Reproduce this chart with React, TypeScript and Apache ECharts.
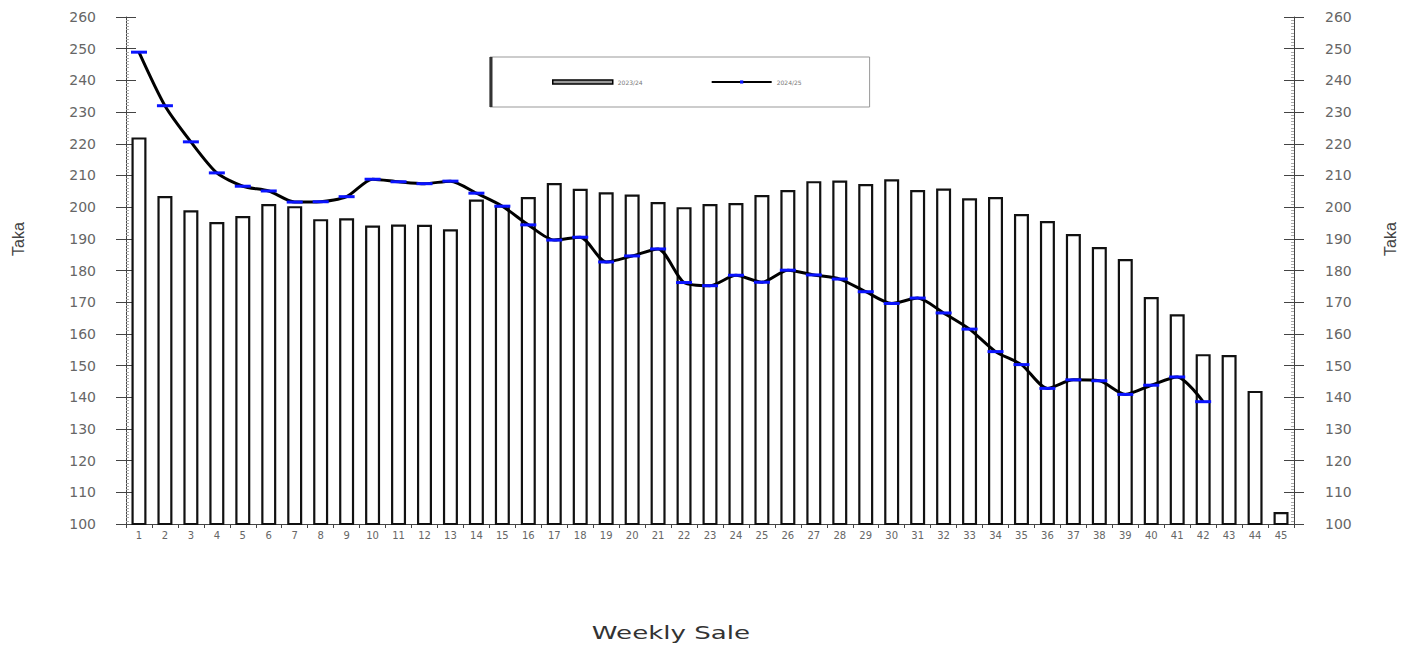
import React, { useEffect, useRef } from "react";
import * as echarts from "echarts";

const weeks: string[] = Array.from({ length: 45 }, (_, i) => String(i + 1));

const sales2023: number[] = [
  222, 203.5, 199, 195.3, 197.2, 201, 200.3, 196.2, 196.5, 194.2,
  194.5, 194.4, 193, 202.4, 200.6, 203.2, 207.6, 205.8, 204.7, 204,
  201.6, 200, 201, 201.3, 203.8, 205.4, 208.2, 208.4, 207.3, 208.8,
  205.4, 205.9, 202.8, 203.2, 197.8, 195.6, 191.5, 187.4, 183.6, 171.6,
  166.2, 153.6, 153.3, 142, 103.8,
];

const sales2024: (number | null)[] = [
  248.9, 232, 220.6, 210.8, 206.6, 205.1, 201.6, 201.7, 203.3, 208.8,
  208, 207.4, 208.2, 204.4, 200.3, 194.4, 189.6, 190.5, 182.7, 184.6,
  186.8, 176.2, 175.2, 178.5, 176.3, 180.1, 178.6, 177.3, 173.3, 169.6,
  171.3, 166.6, 161.5, 154.4, 150.3, 142.8, 145.5, 145.2, 140.9, 143.8,
  146.4, 138.6, null, null, null,
];

const seriesNames: string[] = ["2023/24", "2024/25"];

const Y_MIN = 100;
const Y_MAX = 260;
const Y_STEP = 10;

export default function App() {
  const ref = useRef<HTMLDivElement>(null);

  useEffect(() => {
    if (!ref.current) return;
    const chart = echarts.init(ref.current, undefined, { renderer: "svg" });

    const labelStyle = {
      color: "#666",
      fontFamily: "DejaVu Sans",
      fontSize: 14,
    };

    const baseY = {
      type: "value" as const,
      min: Y_MIN,
      max: Y_MAX,
      interval: Y_STEP,
      splitLine: { show: false },
    };

    const option: any = {
      animation: false,
      backgroundColor: "#ffffff",
      grid: { left: 126, right: 117, top: 17, bottom: 121, containLabel: false },
      legend: {
        left: 490,
        top: 57,
        orient: "horizontal",
        itemWidth: 60,
        itemHeight: 4,
        itemGap: 68,
        padding: [22, 68, 22, 62],
        borderColor: "#999",
        borderWidth: 1,
        textStyle: { fontSize: 6, color: "#777", fontFamily: "DejaVu Sans" },
        data: [
          { name: seriesNames[0], icon: "rect", itemStyle: { color: "#999", borderColor: "#000", borderWidth: 1.5 } },
          { name: seriesNames[1] },
        ],
      },
      xAxis: {
        type: "category",
        data: weeks,
        boundaryGap: true,
        axisLine: { lineStyle: { color: "#444", width: 1 } },
        axisTick: { show: true, length: 4, lineStyle: { color: "#444" } },
        axisLabel: {
          color: "#666",
          fontFamily: "DejaVu Sans",
          fontSize: 10,
          margin: 6,
          interval: 0,
        },
      },
      yAxis: [
        {
          ...baseY,
          position: "left",
          axisLine: { show: true, lineStyle: { color: "#444", width: 1 } },
          axisTick: { show: true, length: 10, lineStyle: { color: "#444" } },
          axisLabel: { ...labelStyle, margin: 30 },
        },
        {
          ...baseY,
          position: "left",
          axisLine: { show: false },
          axisTick: { show: true, inside: true, length: 10, lineStyle: { color: "#444" } },
          minorTick: { show: true, splitNumber: 10, length: 3, lineStyle: { color: "#aaa" } },
          axisLabel: { show: false },
        },
        {
          ...baseY,
          position: "right",
          axisLine: { show: true, lineStyle: { color: "#444", width: 1 } },
          axisTick: { show: true, length: 10, lineStyle: { color: "#444" } },
          axisLabel: { ...labelStyle, margin: 31 },
        },
        {
          ...baseY,
          position: "right",
          axisLine: { show: false },
          axisTick: { show: true, inside: true, length: 10, lineStyle: { color: "#444" } },
          minorTick: { show: true, splitNumber: 10, length: 3, lineStyle: { color: "#aaa" } },
          axisLabel: { show: false },
        },
      ],
      series: [
        {
          name: seriesNames[0],
          type: "bar",
          data: sales2023,
          yAxisIndex: 0,
          barWidth: 15,
          itemStyle: { color: "#ffffff", borderColor: "#111", borderWidth: 2.2 },
          z: 2,
        },
        {
          name: seriesNames[1],
          type: "line",
          data: sales2024,
          yAxisIndex: 0,
          smooth: 0.25,
          showAllSymbol: true,
          symbol: "rect",
          symbolSize: [16, 3],
          lineStyle: { color: "#000", width: 3 },
          itemStyle: { color: "#0a14ff" },
          z: 3,
        },
      ],
      graphic: [
        {
          type: "line",
          shape: { x1: 491, y1: 57, x2: 491, y2: 107 },
          style: { stroke: "#333", lineWidth: 3 },
          z: 100,
        },
        {
          type: "text",
          x: 18,
          y: 239,
          rotation: Math.PI / 2,
          style: {
            text: "Taka",
            fill: "#444",
            font: "16px 'Liberation Sans Narrow', 'Liberation Sans'",
            align: "center",
            verticalAlign: "middle",
          },
        },
        {
          type: "text",
          x: 1390,
          y: 239,
          rotation: Math.PI / 2,
          style: {
            text: "Taka",
            fill: "#444",
            font: "16px 'Liberation Sans Narrow', 'Liberation Sans'",
            align: "center",
            verticalAlign: "middle",
          },
        },
        {
          type: "text",
          x: 671,
          y: 633,
          scaleX: 1.45,
          style: {
            text: "Weekly Sale",
            fill: "#333",
            font: "18px 'DejaVu Sans'",
            align: "center",
            verticalAlign: "middle",
          },
        },
      ],
    };

    chart.setOption(option);
    return () => chart.dispose();
  }, []);

  return (
    <div
      ref={ref}
      style={{ position: "fixed", left: 0, top: 0, width: 1411, height: 645 }}
    />
  );
}
